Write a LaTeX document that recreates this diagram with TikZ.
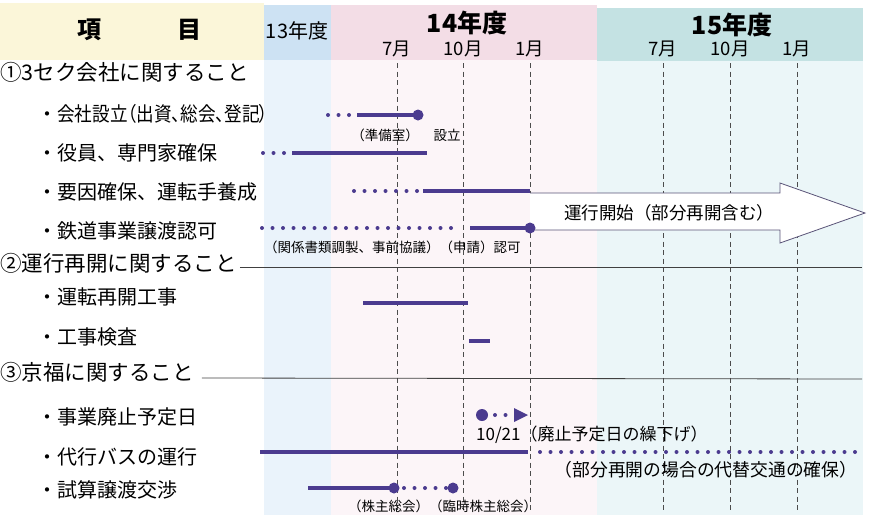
\documentclass[tikz,border=0pt]{standalone}
\usepackage{fontspec}
\usepackage{graphicx}
\setmainfont{Noto Sans CJK JP}
\newfontfamily\jpprop[RawFeature=+palt]{Noto Sans CJK JP}
\usepackage{tikz}
\usetikzlibrary{positioning}

\definecolor{barcol}{HTML}{4B3B8F}
\definecolor{arrowcol}{HTML}{5A5478}
\definecolor{hdyellow}{HTML}{FBF6D9}
\definecolor{hdblue}{HTML}{CDE2F3}
\definecolor{hdpink}{HTML}{F3DDE6}
\definecolor{hdteal}{HTML}{C4E2E3}
\definecolor{bgblue}{HTML}{EAF3FB}
\definecolor{bgpink}{HTML}{FCF5F8}
\definecolor{bgteal}{HTML}{EBF6F8}

\begin{document}
\begin{tikzpicture}[x=1pt, y=-1pt,
    every node/.style={inner sep=0pt},
    head/.style={anchor=west, font=\fontsize{21.5}{22}\selectfont},
    item/.style={anchor=west, font=\fontsize{20}{20}\selectfont},
    note/.style={font=\fontsize{13.5}{14}\selectfont},
    month/.style={font=\fontsize{18.5}{19}\selectfont},
    bar/.style={barcol, line width=4.5pt},
    plan/.style={barcol, line width=4pt, line cap=round, dash pattern=on 0pt off 10.5pt},
    grid/.style={black!70, line width=0.7pt, dash pattern=on 5pt off 3.5pt},
    rule/.style={black!75, line width=0.8pt}]
    \useasboundingbox (0,0) rectangle (870,515);
    % header and column backgrounds
    \fill[hdyellow] (0,3) rectangle (264,60);
    \fill[hdblue] (264,5) rectangle (331,60);
    \fill[hdpink] (331,5) rectangle (597,60);
    \fill[hdteal] (597,8) rectangle (863,61);
    \fill[bgblue] (264,60) rectangle (331,515);
    \fill[bgpink] (331,60) rectangle (597,515);
    \fill[bgteal] (597,61) rectangle (863,515);
    \node[font=\bfseries\fontsize{24}{24}\selectfont] (kou) at (89,30) {項};
    \node[font=\bfseries\fontsize{24}{24}\selectfont] (moku) at (189,30) {目};
    \node[font=\fontsize{20}{20}\selectfont] (y13) at (297,31) {13年度};
    \node[font=\bfseries\fontsize{25}{25}\selectfont] (y14) at (467,23) {14年度};
    \node[font=\bfseries\fontsize{25}{25}\selectfont] (y15) at (732,25) {15年度};
    % months
    \foreach \x/\m [count=\i] in {397/7,463/10,530/1,663/7,730/10,797/1} {
        \node[month] (mon\i) at (\x,49) {{\m}月};
        \draw[grid] (\x,63) -- (\x,513);
    }
    % items
    \node[head] (sec1) at (0,72) {①3セク会社に関すること};
    \node[item] (kaisha) at (37,114) {・\scalebox{0.88}[1]{\jpprop 会社設立（出資、総会、登記）}};
    \node[item] (yakuin) at (37,153) {・役員、専門家確保};
    \node[item] (youin) at (37,192) {・要因確保、運転手養成};
    \node[item] (tetsudo) at (37,231) {・鉄道事業譲渡認可};
    \node[head] (sec2) at (0,263) {②運行再開に関すること};
    \draw[rule] ([xshift=3pt,yshift=-4pt]sec2.east) -- (862,267);
    \node[item] (kouji) at (37,297) {・運転再開工事};
    \node[item] (kensa) at (37,337) {・工事検査};
    \node[head] (sec3) at (0,372) {③京福に関すること};
    \draw[rule] ([xshift=8pt,yshift=-6pt]sec3.east) -- (862,379);
    \node[item] (haishi) at (37,417) {・事業廃止予定日};
    \node[item] (bus) at (37,457) {・代行バスの運行};
    \node[item] (shisan) at (37,490) {・試算譲渡交渉};
    % operation start arrow
    \filldraw[fill=white, draw=arrowcol, line width=0.8pt] (530,193) -- (780,193) -- (780,183)
        -- (865,213) -- (780,243) -- (780,230) -- (530,230);
    \node[font=\fontsize{17.5}{18}\selectfont] (unko) at (669,213) {運行開始（部分再開含む）};
    % bars
    \draw[plan] (328,115) -- (350.5,115);
    \draw[bar] (357,115) -- (418,115);
    \fill[barcol] (418,115) circle (5.5pt);
    \node[note] (junbi) at (385,135) {（準備室）};
    \node[note] (setsu) at (447,135) {設立};
    \draw[plan] (263,153) -- (285.5,153);
    \draw[bar] (292,153) -- (427,153);
    \draw[plan] (354,191) -- (417.5,191);
    \draw[bar] (423,191) -- (530,191);
    \draw[plan] (262,228) -- (461,228);
    \draw[bar] (470,228) -- (530,228);
    \fill[barcol] (530,228) circle (5.5pt);
    \node[note, anchor=west] (ninka) at (264,247) {（関係書類調製、事前協議）（申請）認可};
    \draw[bar] (363,303) -- (468,303);
    \draw[bar] (469,341) -- (490,341);
    \fill[barcol] (482,415) circle (6pt);
    \draw[plan] (495,415) -- (506,415);
    \fill[barcol] (514,408) -- (528,415) -- (514,422) -- cycle;
    \node[font=\fontsize{17}{17}\selectfont, anchor=west] (kurisage) at (476,435) {10/21（廃止予定日の繰下げ）};
    \draw[bar] (260,452) -- (528,452);
    \draw[plan] (540,452) -- (862,452);
    \node[font=\fontsize{17.8}{18}\selectfont] (daitai) at (706,470) {（部分再開の場合の代替交通の確保）};
    \draw[bar] (308,488) -- (394,488);
    \fill[barcol] (394,488) circle (5.5pt);
    \draw[plan] (404,488) -- (446,488);
    \fill[barcol] (453,488) circle (5.5pt);
    \node[note, anchor=west] (kabunushi) at (348,506) {（株主総会）（臨時株主総会）};
\end{tikzpicture}
\end{document}
